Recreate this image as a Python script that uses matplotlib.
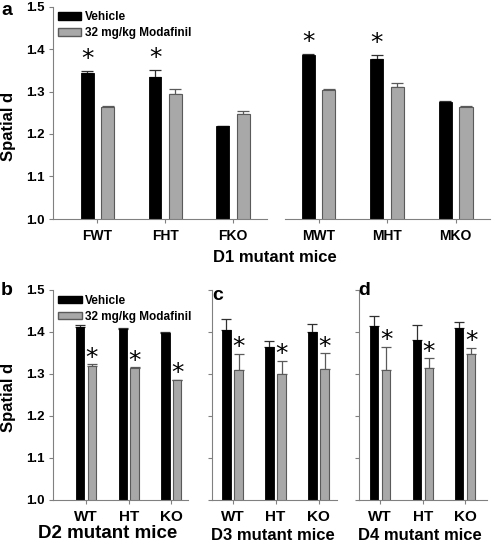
import numpy as np
import matplotlib
matplotlib.use("Agg")
import matplotlib.pyplot as plt
from matplotlib.patches import Patch

plt.rcParams['font.family'] = ['Liberation Sans', 'DejaVu Sans']
plt.rcParams['font.weight'] = 'bold'

# ---- data ----
# panel a : D1 mutant mice, females and males
f_names   = ["FWT", "FHT", "FKO"]
f_veh     = [1.343, 1.334, 1.218]
f_veh_err = [0.005, 0.017, 0.002]
f_mod     = [1.264, 1.295, 1.247]
f_mod_err = [0.002, 0.010, 0.007]

m_names   = ["MWT", "MHT", "MKO"]
m_veh     = [1.385, 1.376, 1.275]
m_veh_err = [0.003, 0.009, 0.003]
m_mod     = [1.303, 1.310, 1.264]
m_mod_err = [0.002, 0.009, 0.003]

# panels b, c, d : D2, D3, D4 mutant mice
g_names   = ["WT", "HT", "KO"]
d2_veh     = [1.412, 1.406, 1.397]
d2_veh_err = [0.005, 0.003, 0.003]
d2_mod     = [1.319, 1.314, 1.285]
d2_mod_err = [0.004, 0.002, 0.001]

d3_veh     = [1.405, 1.365, 1.399]
d3_veh_err = [0.025, 0.014, 0.020]
d3_mod     = [1.309, 1.300, 1.311]
d3_mod_err = [0.039, 0.032, 0.039]

d4_veh     = [1.415, 1.381, 1.409]
d4_veh_err = [0.023, 0.036, 0.014]
d4_mod     = [1.310, 1.314, 1.347]
d4_mod_err = [0.055, 0.024, 0.016]

# which bars get an asterisk
f_star_veh = [0, 1]
m_star_veh = [0, 1]
bot_star_mod = [0, 1, 2]

GRAY  = "#a8a8a8"
EDGE  = "#5a5a5a"
SPINE = "#808080"

W, H = 492, 543
fig = plt.figure(figsize=(W / 100, H / 100), dpi=100)


def box(x0, x1, ytop, ybot):
    # pixel box -> figure fraction
    return [x0 / W, 1 - ybot / H, (x1 - x0) / W, (ybot - ytop) / H]


def draw(ax, names, veh, veh_err, mod, mod_err, xlim, width, off, cap,
         star_veh=(), star_mod=(), star_dy=3, yaxis=True, ylabels=True,
         tick_fs=10, tick_pad=3):
    x = np.arange(len(names))
    ax.bar(x - off, veh, width, color="black", edgecolor="black", linewidth=0.6, zorder=2)
    ax.bar(x + off, mod, width, color=GRAY, edgecolor=EDGE, linewidth=0.8, zorder=2)
    ax.errorbar(x - off, veh, yerr=[np.zeros(len(x)), veh_err], fmt="none",
                ecolor="#303030", elinewidth=0.9, capsize=cap, capthick=0.9, zorder=1)
    ax.errorbar(x + off, mod, yerr=[np.zeros(len(x)), mod_err], fmt="none",
                ecolor=EDGE, elinewidth=0.9, capsize=cap, capthick=0.9, zorder=1)

    for i in star_veh:
        ax.annotate("*", xy=(x[i] - off, veh[i] + veh_err[i]), xytext=(0, star_dy),
                    textcoords="offset points", ha="center", va="bottom",
                    fontsize=18, family="DejaVu Sans", fontweight="normal")
    for i in star_mod:
        ax.annotate("*", xy=(x[i] + off, mod[i] + mod_err[i]), xytext=(0, star_dy),
                    textcoords="offset points", ha="center", va="bottom",
                    fontsize=18, family="DejaVu Sans", fontweight="normal")

    ax.set_xlim(*xlim)
    ax.set_ylim(1.0, 1.5)
    ax.set_xticks(x)
    ax.set_xticklabels(names, fontsize=tick_fs, fontweight="bold")
    ax.set_yticks([1.0, 1.1, 1.2, 1.3, 1.4, 1.5])
    ax.set_yticklabels(["1.0", "1.1", "1.2", "1.3", "1.4", "1.5"] if ylabels else [],
                       fontsize=9.5, fontweight="bold")
    ax.spines["top"].set_visible(False)
    ax.spines["right"].set_visible(False)
    ax.spines["bottom"].set_color(SPINE)
    ax.spines["left"].set_color(SPINE)
    ax.tick_params(axis="x", length=3, color=SPINE, pad=tick_pad)
    ax.tick_params(axis="y", length=3, color=SPINE, pad=3)
    if not yaxis:
        ax.spines["left"].set_visible(False)
        ax.tick_params(axis="y", left=False, labelleft=False)
    ax.patch.set_alpha(0)


def add_legend(ax):
    h = [Patch(facecolor="black", edgecolor="black", label="Vehicle"),
         Patch(facecolor=GRAY, edgecolor=EDGE, label="32 mg/kg Modafinil")]
    ax.legend(handles=h, loc="upper left", bbox_to_anchor=(0.0, 1.0), frameon=False,
              prop={"size": 8.5, "weight": "bold"}, handlelength=2.0, handleheight=0.6,
              handletextpad=0.3, labelspacing=0.35, borderaxespad=0.2, borderpad=0.2)


# ================== panel a ==================
ax_f = fig.add_axes(box(53, 267, 6.5, 219))
draw(ax_f, f_names, f_veh, f_veh_err, f_mod, f_mod_err, (-0.657, 2.503), 0.19, 0.15, 4.5,
     star_veh=f_star_veh, star_dy=0, tick_pad=4)
add_legend(ax_f)

ax_m = fig.add_axes(box(285, 490, 6.5, 219))
draw(ax_m, m_names, m_veh, m_veh_err, m_mod, m_mod_err, (-0.49, 2.50), 0.19, 0.15, 4.5,
     star_veh=m_star_veh, star_dy=0, yaxis=False, tick_pad=4)

# ================== panels b, c, d ==================
ax_b = fig.add_axes(box(53.3, 188, 290, 500))
draw(ax_b, g_names, d2_veh, d2_veh_err, d2_mod, d2_mod_err, (-0.766, 2.39), 0.195, 0.14, 3.5,
     star_mod=bot_star_mod, star_dy=-4, tick_fs=11, tick_pad=4)
add_legend(ax_b)

ax_c = fig.add_axes(box(212, 337, 290, 500))
draw(ax_c, g_names, d3_veh, d3_veh_err, d3_mod, d3_mod_err, (-0.477, 2.43), 0.195, 0.14, 3.5,
     star_mod=bot_star_mod, star_dy=-4, ylabels=False, tick_fs=11, tick_pad=4)

ax_d = fig.add_axes(box(359.3, 487, 290, 500))
draw(ax_d, g_names, d4_veh, d4_veh_err, d4_mod, d4_mod_err, (-0.49, 2.51), 0.195, 0.14, 3.5,
     star_mod=bot_star_mod, star_dy=-4, ylabels=False, tick_fs=11, tick_pad=4)

# ---- labels ----
def ftext(px, py, s, **kw):
    fig.text(px / W, 1 - py / H, s, fontweight="bold", **kw)

ftext(9, 126, "Spatial d", rotation=90, ha="center", va="center", fontsize=12)
ftext(9, 397, "Spatial d", rotation=90, ha="center", va="center", fontsize=12)

ftext(275, 257, "D1 mutant mice", ha="center", va="center", fontsize=12)
ftext(108, 534, "D2 mutant mice", ha="center", va="center", fontsize=13.5)
ftext(273, 535, "D3 mutant mice", ha="center", va="center", fontsize=12)
ftext(420, 535, "D4 mutant mice", ha="center", va="center", fontsize=12)

ftext(1, 15, "a", ha="left", va="baseline", fontsize=14)
ftext(1, 295, "b", ha="left", va="baseline", fontsize=14)
ftext(212, 300, "c", ha="left", va="baseline", fontsize=14)
ftext(358, 295, "d", ha="left", va="baseline", fontsize=14)

plt.savefig("out.png", dpi=100)
